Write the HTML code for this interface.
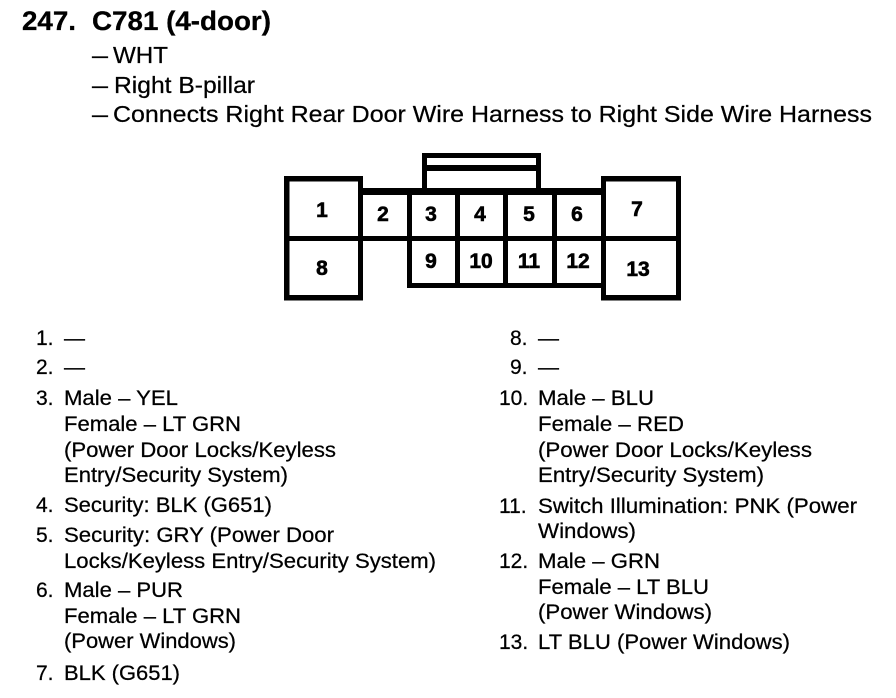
<!DOCTYPE html>
<html><head><meta charset="utf-8"><style>
html,body{margin:0;padding:0;background:#fff;width:896px;height:698px;overflow:hidden}
svg{display:block}
text{font-family:"Liberation Sans",sans-serif;font-size:21px;fill:#000;stroke:#000;stroke-width:.25px}
.t{font-weight:bold;font-size:27px;stroke-width:.3px}
.h{font-size:23.5px;stroke-width:.25px}
.n{font-weight:bold;font-size:21px;text-anchor:middle;stroke-width:.6px}
</style></head><body>
<svg width="896" height="698" viewBox="0 0 896 698" xmlns="http://www.w3.org/2000/svg">
<text class="t" x="22" y="30" textLength="54" lengthAdjust="spacingAndGlyphs">247.</text>
<text class="t" x="92" y="30" textLength="179" lengthAdjust="spacingAndGlyphs">C781 (4-door)</text>
<text class="h" x="92" y="63" textLength="16" lengthAdjust="spacingAndGlyphs">–</text>
<text class="h" x="113" y="63" textLength="55" lengthAdjust="spacingAndGlyphs">WHT</text>
<text class="h" x="92" y="93" textLength="16" lengthAdjust="spacingAndGlyphs">–</text>
<text class="h" x="114" y="93" textLength="141" lengthAdjust="spacingAndGlyphs">Right B-pillar</text>
<text class="h" x="92" y="122" textLength="16" lengthAdjust="spacingAndGlyphs">–</text>
<text class="h" x="113" y="122" textLength="759" lengthAdjust="spacingAndGlyphs">Connects Right Rear Door Wire Harness to Right Side Wire Harness</text>
<g fill="#000">
<rect x="284" y="176" width="79" height="5.5"/><rect x="284" y="295" width="79" height="5.5"/>
<rect x="284" y="176" width="5.5" height="124"/><rect x="358" y="176" width="5" height="124"/>
<rect x="601" y="176" width="80" height="5.5"/><rect x="601" y="295" width="80" height="5.5"/>
<rect x="601" y="176" width="5" height="124"/><rect x="676" y="176" width="5" height="124"/>
<rect x="284" y="236" width="397" height="5"/>
<rect x="363" y="188" width="238" height="7"/>
<rect x="407" y="283" width="194" height="5"/>
<rect x="407" y="188" width="5" height="100"/><rect x="455" y="188" width="5" height="100"/>
<rect x="503" y="188" width="5" height="100"/><rect x="552" y="188" width="5" height="100"/>
<rect x="422" y="153" width="119" height="5"/><rect x="422" y="165" width="119" height="6"/>
<rect x="422" y="153" width="5" height="36"/><rect x="536" y="153" width="5" height="36"/>
</g>
<text class="n" x="322" y="217">1</text>
<text class="n" x="383" y="221">2</text>
<text class="n" x="431" y="221">3</text>
<text class="n" x="480" y="221">4</text>
<text class="n" x="529" y="221">5</text>
<text class="n" x="577" y="221">6</text>
<text class="n" x="637" y="216">7</text>
<text class="n" x="322" y="275">8</text>
<text class="n" x="431" y="268">9</text>
<text class="n" x="481" y="268">10</text>
<text class="n" x="529" y="268">11</text>
<text class="n" x="578" y="268">12</text>
<text class="n" x="638" y="276">13</text>

<text x="36" y="345">1.</text><text x="64" y="345">—</text>
<text x="36" y="374">2.</text><text x="64" y="374">—</text>
<text x="36" y="405">3.</text><text x="64" y="405" textLength="114" lengthAdjust="spacingAndGlyphs">Male – YEL</text>
<text x="64" y="431" textLength="177" lengthAdjust="spacingAndGlyphs">Female – LT GRN</text>
<text x="64" y="457" textLength="272" lengthAdjust="spacingAndGlyphs">(Power Door Locks/Keyless</text>
<text x="64" y="482" textLength="224" lengthAdjust="spacingAndGlyphs">Entry/Security System)</text>
<text x="36" y="512">4.</text><text x="64" y="512" textLength="208" lengthAdjust="spacingAndGlyphs">Security: BLK (G651)</text>
<text x="36" y="542">5.</text><text x="64" y="542" textLength="270" lengthAdjust="spacingAndGlyphs">Security: GRY (Power Door</text>
<text x="64" y="568" textLength="372" lengthAdjust="spacingAndGlyphs">Locks/Keyless Entry/Security System)</text>
<text x="36" y="597">6.</text><text x="64" y="597" textLength="119" lengthAdjust="spacingAndGlyphs">Male – PUR</text>
<text x="64" y="623" textLength="177" lengthAdjust="spacingAndGlyphs">Female – LT GRN</text>
<text x="64" y="648" textLength="172" lengthAdjust="spacingAndGlyphs">(Power Windows)</text>
<text x="36" y="680">7.</text><text x="64" y="680" textLength="116" lengthAdjust="spacingAndGlyphs">BLK (G651)</text>

<text x="510" y="345">8.</text><text x="538" y="345">—</text>
<text x="510" y="374">9.</text><text x="538" y="374">—</text>
<text x="499" y="405">10.</text><text x="538" y="405" textLength="116" lengthAdjust="spacingAndGlyphs">Male – BLU</text>
<text x="538" y="431" textLength="146" lengthAdjust="spacingAndGlyphs">Female – RED</text>
<text x="538" y="457" textLength="274" lengthAdjust="spacingAndGlyphs">(Power Door Locks/Keyless</text>
<text x="538" y="482" textLength="226" lengthAdjust="spacingAndGlyphs">Entry/Security System)</text>
<text x="499" y="513">11.</text><text x="538" y="513" textLength="319" lengthAdjust="spacingAndGlyphs">Switch Illumination: PNK (Power</text>
<text x="538" y="538" textLength="98" lengthAdjust="spacingAndGlyphs">Windows)</text>
<text x="499" y="568">12.</text><text x="538" y="568" textLength="122" lengthAdjust="spacingAndGlyphs">Male – GRN</text>
<text x="538" y="594" textLength="171" lengthAdjust="spacingAndGlyphs">Female – LT BLU</text>
<text x="538" y="619" textLength="174" lengthAdjust="spacingAndGlyphs">(Power Windows)</text>
<text x="499" y="649">13.</text><text x="538" y="649" textLength="252" lengthAdjust="spacingAndGlyphs">LT BLU (Power Windows)</text>
</svg>
</body></html>
